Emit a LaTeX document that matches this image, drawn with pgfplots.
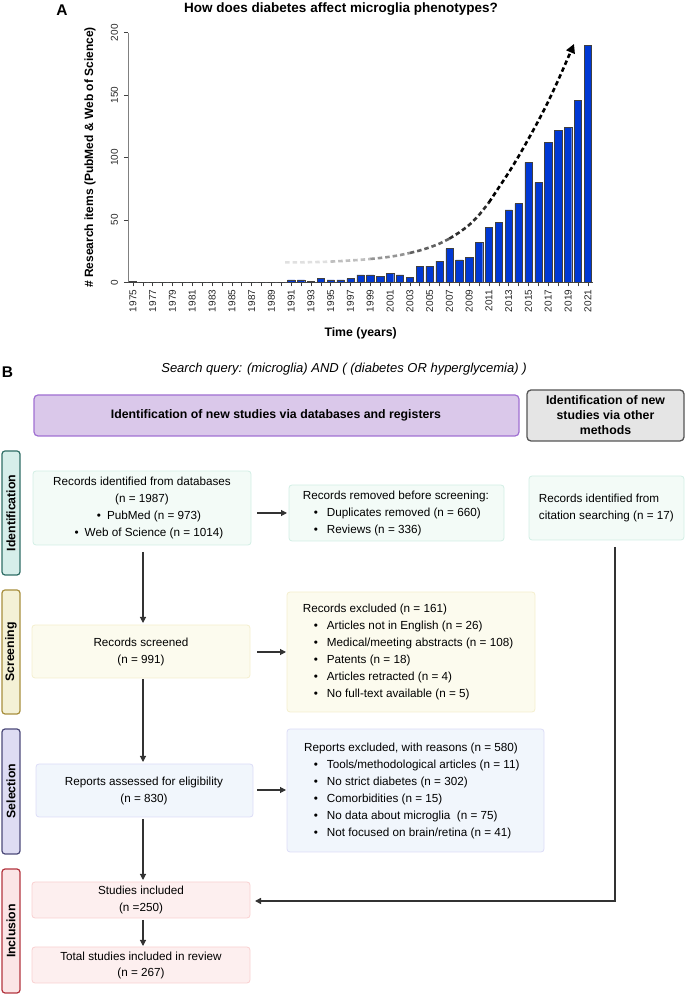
\documentclass[border=0pt]{standalone}
\usepackage{fontspec}
\setmainfont{Liberation Sans}
\usepackage{pgfplots}
\pgfplotsset{compat=1.18}
\usetikzlibrary{arrows.meta}

\definecolor{barblue}{RGB}{0,56,212}
\definecolor{hdrfill}{RGB}{218,200,234}
\definecolor{hdrdraw}{RGB}{160,112,210}
\definecolor{othfill}{RGB}{229,229,229}
\definecolor{othdraw}{RGB}{85,85,85}
\definecolor{idfill}{RGB}{214,238,234}
\definecolor{iddraw}{RGB}{47,110,102}
\definecolor{scfill}{RGB}{244,241,214}
\definecolor{scdraw}{RGB}{168,143,62}
\definecolor{selfill}{RGB}{222,220,243}
\definecolor{seldraw}{RGB}{77,75,122}
\definecolor{infill}{RGB}{251,229,230}
\definecolor{indraw}{RGB}{179,53,63}
\definecolor{boxG}{RGB}{243,251,247}
\definecolor{boxGd}{RGB}{210,239,229}
\definecolor{boxY}{RGB}{252,251,238}
\definecolor{boxYd}{RGB}{244,239,206}
\definecolor{boxB}{RGB}{241,246,252}
\definecolor{boxBd}{RGB}{220,220,247}
\definecolor{boxR}{RGB}{253,239,239}
\definecolor{boxRd}{RGB}{249,208,208}
\definecolor{arr}{RGB}{51,51,51}

\newcommand\bodyfont{\fontsize{11.7}{17}\selectfont}
\newcommand\headfont{\fontsize{12.3}{15}\selectfont\bfseries}
% one text line: centred / left aligned / bullet item, y = baseline in pixels
\newcommand\Lc[3]{\node[anchor=base,inner sep=0pt,font=\bodyfont] at (#1,#2) {#3};}
\newcommand\Ll[3]{\node[anchor=base west,inner sep=0pt,font=\bodyfont] at (#1,#2) {#3};}
\newcommand\Lb[3]{\node[anchor=base,inner sep=0pt,font=\bodyfont] at (#1,#2) {\textbullet};
  \node[anchor=base west,inner sep=0pt,font=\bodyfont] at ({#1+10.7},#2) {#3};}

\pgfplotsset{trend/.style={smooth, line width=2.6pt, dash pattern=on 4.5pt off 3pt}}

\begin{document}
\begin{tikzpicture}
\useasboundingbox (0pt,0pt) rectangle (685pt,994pt);

\begin{axis}[
  at={(128pt,711.7pt)}, anchor=south west,
  scale only axis, width=465.3pt, height=249.6pt,
  xmin=1974.5, xmax=2021.55, ymin=0, ymax=200,
  axis x line*=bottom, axis y line*=left,
  axis line style={-},
  x axis line style={black!70, line width=0.7pt},
  y axis line style={black!50, line width=0.9pt},
  xtick={1975,1977,...,2021}, minor xtick={1976,1978,...,2020},
  ytick={0,50,...,200},
  tick align=outside, major tick length=4pt, minor tick length=4pt,
  every tick/.style={black!75, line width=0.6pt},
  /pgf/number format/assume math mode=true,
  /pgf/number format/1000 sep={},
  xticklabel style={rotate=90, anchor=east, font=\fontsize{10}{11}\selectfont, black!85},
  yticklabel style={rotate=90, anchor=south, font=\fontsize{10}{11}\selectfont, black!85},
  yticklabel shift=2.5pt,
  title={How does diabetes affect microglia phenotypes?},
  every axis title/.style={at={(axis description cs:0.4578,1.0825)}, anchor=base,
    font=\fontsize{13.5}{15}\selectfont\bfseries},
  xlabel={Time (years)},
  every axis x label/.style={at={(axis description cs:0.5,-0.2031)}, anchor=center,
    font=\fontsize{12.3}{14}\selectfont\bfseries},
  ylabel={\# Research items (PubMed \& Web of Science)},
  every axis y label/.style={at={(axis description cs:-0.0817,0.5)}, anchor=center, rotate=90,
    font=\fontsize{12}{14}\selectfont\bfseries},
  clip=false,
]
\addplot[ybar, bar width=7.3pt, fill=barblue, draw=black!75, line width=0.4pt] coordinates {
(1975,1) (1976,0) (1977,0) (1978,0) (1979,0) (1980,0) (1981,0) (1982,0)
(1983,0) (1984,0) (1985,0) (1986,0) (1987,0) (1988,0) (1989,0) (1990,0)
(1991,2) (1992,2) (1993,1) (1994,3) (1995,2) (1996,2) (1997,3) (1998,6)
(1999,6) (2000,5) (2001,7) (2002,6) (2003,4) (2004,13) (2005,13) (2006,17)
(2007,27) (2008,18) (2009,20) (2010,32) (2011,44) (2012,48) (2013,58) (2014,63)
(2015,96) (2016,80) (2017,112) (2018,122) (2019,124) (2020,146) (2021,190)
};
% trend arrow, fading from light grey to black
\addplot[trend, black!12] coordinates {
(1990.4,16) (1992,16) (1994,16.3) (1995,16.6)};
\addplot[trend, black!25] coordinates {
(1995,16.6) (1996,17) (1997,17.5) (1998,18) (1999,18.7)};
\addplot[trend, black!42] coordinates {
(1999,18.7) (2000,19.5) (2001,20.5) (2002,21.8) (2003,23.5)};
\addplot[trend, black!62] coordinates {
(2003,23.5) (2004,25.5) (2005,28) (2006,31) (2007,35)};
\addplot[trend, black!82] coordinates {
(2007,35) (2008,40) (2009,46) (2010,54) (2011,64)};
\addplot[trend, black, -{Triangle[length=9pt,width=9pt]}] coordinates {
(2011,64) (2012,76) (2013,88) (2014,101) (2015,115) (2016,129.5) (2017,145)
(2018,162) (2019,180) (2019.6,191)};
\end{axis}

\begin{scope}[x=1pt,y=-1pt,yshift=994pt]
\node[font=\fontsize{15.5}{16}\selectfont\bfseries] at (62,10) {A};
\node[font=\fontsize{15.5}{16}\selectfont\bfseries] at (7.5,372) {B};
\node[font=\fontsize{13}{15}\selectfont\itshape] at (344,369)
  {Search query: (microglia) AND ( (diabetes OR hyperglycemia) )};

% column headers
\draw[rounded corners=4pt, fill=hdrfill, draw=hdrdraw, line width=1.2pt] (34,395) rectangle (519,436);
\node[font=\headfont] at (276,415.7) {Identification of new studies via databases and registers};
\draw[rounded corners=4pt, fill=othfill, draw=othdraw, line width=1.3pt] (527,390) rectangle (684,441);
\node[font=\headfont, align=center] at (605.5,415.5) {Identification of new\\studies via other\\methods};

% stage labels
\draw[rounded corners=3pt, fill=idfill, draw=iddraw, line width=1.2pt] (2,451) rectangle (20,575);
\node[font=\headfont, rotate=90] at (11,513) {Identification};
\draw[rounded corners=3pt, fill=scfill, draw=scdraw, line width=1.2pt] (2,590) rectangle (20,714);
\node[font=\headfont, rotate=90] at (11,652) {Screening};
\draw[rounded corners=3pt, fill=selfill, draw=seldraw, line width=1.2pt] (2,729) rectangle (20,854);
\node[font=\headfont, rotate=90] at (11,791) {Selection};
\draw[rounded corners=3pt, fill=infill, draw=indraw, line width=1.2pt] (2,869) rectangle (20,993);
\node[font=\headfont, rotate=90] at (11,931) {Inclusion};

% boxes
\draw[rounded corners=3pt, fill=boxG, draw=boxGd, line width=0.8pt] (33,471) rectangle (251,545);
\draw[rounded corners=3pt, fill=boxG, draw=boxGd, line width=0.8pt] (289,485) rectangle (504,541);
\draw[rounded corners=3pt, fill=boxG, draw=boxGd, line width=0.8pt] (529,476) rectangle (684,540);
\draw[rounded corners=3pt, fill=boxY, draw=boxYd, line width=0.8pt] (32,625) rectangle (250,678);
\draw[rounded corners=3pt, fill=boxY, draw=boxYd, line width=0.8pt] (287,592) rectangle (535,712);
\draw[rounded corners=3pt, fill=boxB, draw=boxBd, line width=0.8pt] (36,764) rectangle (253,817);
\draw[rounded corners=3pt, fill=boxB, draw=boxBd, line width=0.8pt] (287,729) rectangle (544,852);
\draw[rounded corners=3pt, fill=boxR, draw=boxRd, line width=0.8pt] (32,882) rectangle (250,918);
\draw[rounded corners=3pt, fill=boxR, draw=boxRd, line width=0.8pt] (32,947) rectangle (250,983);

% texts
\Lc{142}{486}{Records identified from databases}
\Lc{142}{503}{(n = 1987)}
\Lc{149}{520}{\textbullet\hspace{6pt}PubMed (n = 973)}
\Lc{149}{537}{\textbullet\hspace{6pt}Web of Science (n = 1014)}

\Ll{302.7}{500}{Records removed before screening:}
\Lb{316}{517}{Duplicates removed (n = 660)}
\Lb{316}{534}{Reviews (n = 336)}

\Ll{538.7}{503}{Records identified from}
\Ll{538.7}{520}{citation searching (n = 17)}

\Lc{141}{647}{Records screened}
\Lc{141}{664}{(n = 991)}

\Ll{302.7}{613}{Records excluded (n = 161)}
\Lb{316}{630}{Articles not in English (n = 26)}
\Lb{316}{647}{Medical/meeting abstracts (n = 108)}
\Lb{316}{664}{Patents (n = 18)}
\Lb{316}{681}{Articles retracted (n = 4)}
\Lb{316}{698}{No full-text available (n = 5)}

\Lc{144}{786}{Reports assessed for eligibility}
\Lc{144}{803}{(n = 830)}

\Ll{304}{752}{Reports excluded, with reasons (n = 580)}
\Lb{316}{769}{Tools/methodological articles (n = 11)}
\Lb{316}{786}{No strict diabetes (n = 302)}
\Lb{316}{803}{Comorbidities (n = 15)}
\Lb{316}{820}{No data about microglia\ \ (n = 75)}
\Lb{316}{837}{Not focused on brain/retina (n = 41)}

\Lc{141}{895}{Studies included}
\Lc{141}{912}{(n =250)}
\Lc{141}{960}{Total studies included in review}
\Lc{141}{977}{(n = 267)}

% arrows
\begin{scope}[draw=arr, line width=1.1pt, -{Triangle[length=6pt,width=6pt]}]
\draw (143,552) -- (143,623);
\draw (257,513) -- (287,513);
\draw (257,652) -- (286,652);
\draw (143,679) -- (143,762);
\draw (257,790) -- (286,790);
\draw (143,819) -- (143,880);
\draw (143,920) -- (143,946);
\end{scope}
\draw[draw=arr, line width=1.4pt, -{Triangle[length=6pt,width=6pt]}]
  (615,547) -- (615,901) -- (255,901);
\end{scope}
\end{tikzpicture}
\end{document}
